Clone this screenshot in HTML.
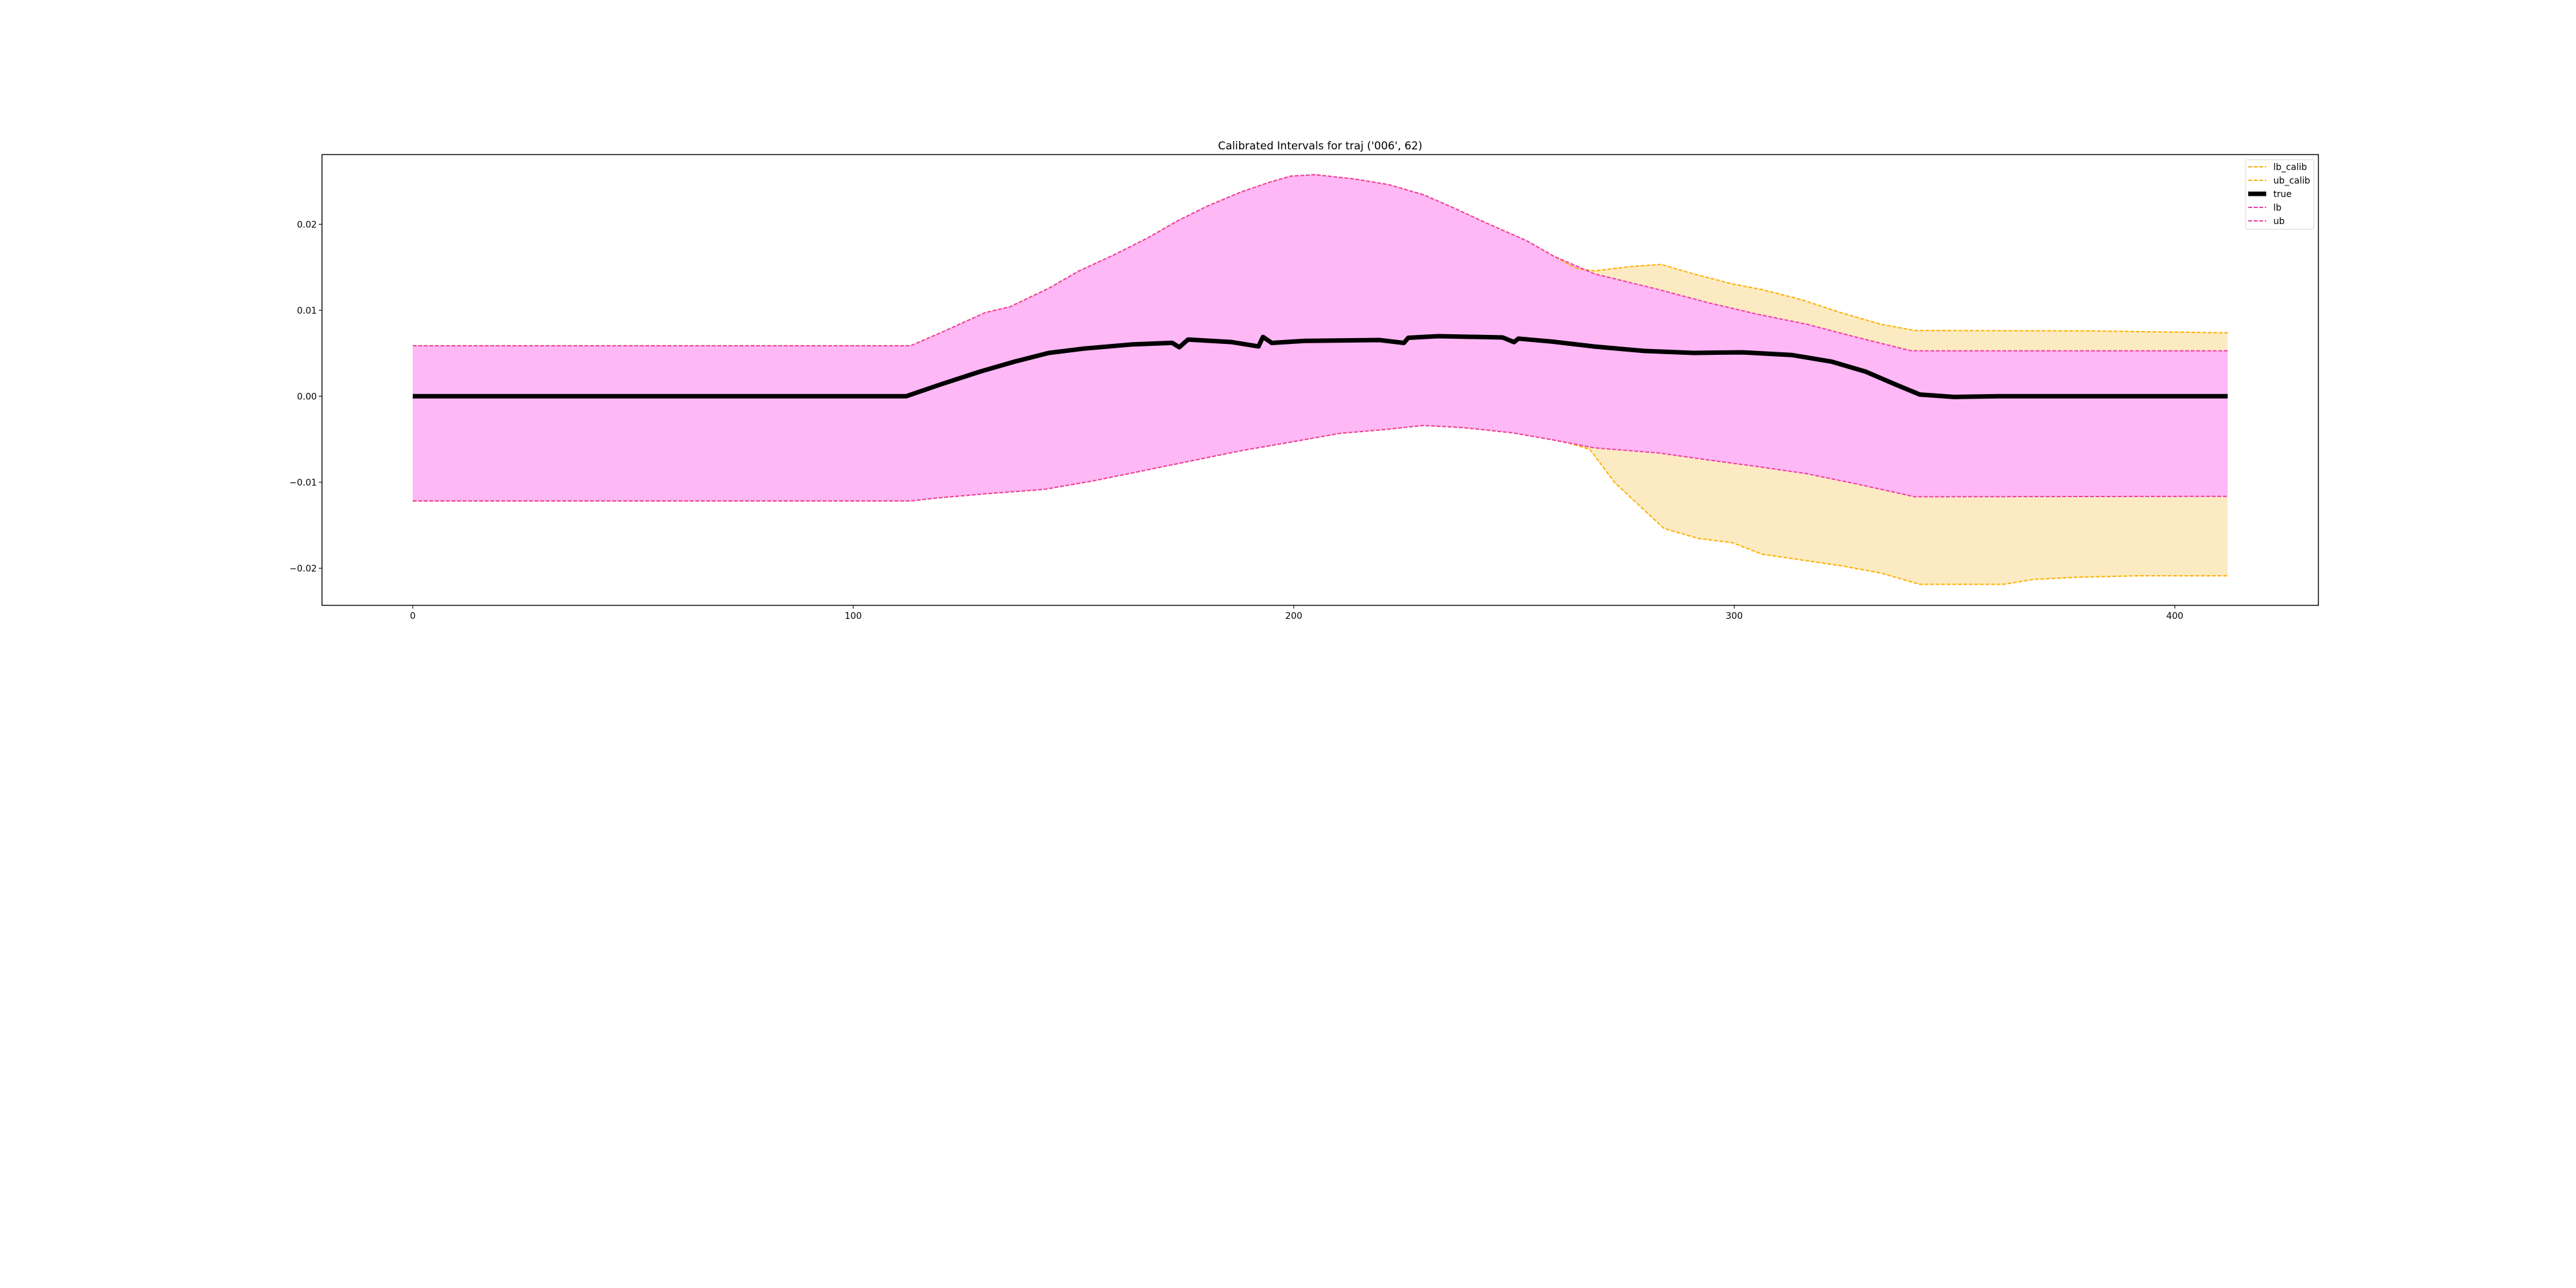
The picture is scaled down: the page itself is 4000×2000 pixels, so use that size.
<!DOCTYPE html>
<html><head><meta charset="utf-8"><style>
html,body{margin:0;padding:0;background:#fff;}
svg{display:block;font-family:"DejaVu Sans","Liberation Sans",sans-serif;}
</style></head><body>
<svg id="chart" width="4000" height="2000" viewBox="0 0 4000 2000" xmlns="http://www.w3.org/2000/svg">
<rect width="4000" height="2000" fill="#fff"/>
<text x="2050" y="232" font-size="16.7" text-anchor="middle" fill="#000">Calibrated Intervals for traj ('006', 62)</text>
<g id="plot"></g>
<g id="axes"></g>
<g id="legend"></g>
</svg>
<script>
// ---- data ----
const ubX = [0,113,119.8,129.9,135.5,144.4,151.2,159,166.8,173.6,180.3,188.1,194.8,199.3,204.8,213.8,221.7,229.5,236.2,244,252.9,259,268.3,282.9,294,305.2,316.4,327.6,340,342,412];
const ubV = [0.00587,0.00587,0.00738,0.00972,0.01039,0.01256,0.01457,0.0164,0.0184,0.0204,0.0221,0.02377,0.02494,0.0256,0.02577,0.02527,0.0246,0.02343,0.02193,0.02009,0.01808,0.0163,0.01423,0.0124,0.01089,0.00955,0.00838,0.00688,0.0053,0.00529,0.00529];
const lbX = [0,113,118.7,129.9,143.3,154.5,165.7,176.9,188.1,199.3,210.4,221.7,229.5,238.4,249.6,258,268.3,282.9,294,305.2,316.4,327.6,341,412];
const lbV = [-0.01218,-0.01218,-0.01185,-0.01135,-0.01084,-0.00984,-0.00867,-0.0075,-0.00633,-0.00533,-0.00432,-0.00382,-0.00339,-0.00365,-0.00425,-0.00500,-0.006,-0.0066,-0.0074,-0.00817,-0.009,-0.01018,-0.01169,-0.01164];
const ubCalX = [0,113,119.8,129.9,135.5,144.4,151.2,159,166.8,173.6,180.3,188.1,194.8,199.3,204.8,213.8,221.7,229.5,236.2,244,252.9,259,264,268.3,276.2,283.4,290.7,299.6,306.3,315.3,324.2,333.2,341,380,412];
const ubCalV = [0.00587,0.00587,0.00738,0.00972,0.01039,0.01256,0.01457,0.0164,0.0184,0.0204,0.0221,0.02377,0.02494,0.0256,0.02577,0.02527,0.0246,0.02343,0.02193,0.02009,0.01808,0.0163,0.0149,0.01457,0.01507,0.01534,0.01423,0.01306,0.0124,0.01123,0.00972,0.00838,0.00765,0.00760,0.00738];
const lbCalX = [0,113,118.7,129.9,143.3,154.5,165.7,176.9,188.1,199.3,210.4,221.7,229.5,238.4,249.6,258,261.6,267.2,272.8,278.4,284,291.8,299.6,306.3,315.3,324.2,333.2,342.1,361.1,367.8,377.9,391.4,412];
const lbCalV = [-0.01218,-0.01218,-0.01185,-0.01135,-0.01084,-0.00984,-0.00867,-0.0075,-0.00633,-0.00533,-0.00432,-0.00382,-0.00339,-0.00365,-0.00425,-0.00500,-0.00532,-0.00617,-0.01001,-0.01268,-0.01536,-0.01653,-0.01703,-0.01837,-0.01904,-0.01971,-0.02055,-0.02188,-0.02188,-0.02131,-0.02105,-0.02088,-0.02088];
const trueX = [0,112,119.8,128.8,136.7,144.4,152.3,163.5,172.4,174,176,185.8,192,193,195,202.6,219.4,225,226,232.8,247.4,250,251,258.5,268.3,279.5,290.7,301.9,313,322,329.8,336.6,342.1,349.9,360,412];
const trueV = [0,0,0.00137,0.00287,0.00404,0.00504,0.00554,0.00604,0.00621,0.0057,0.0066,0.00631,0.0058,0.0069,0.0062,0.00644,0.00654,0.0062,0.0068,0.00699,0.00684,0.0063,0.0067,0.00637,0.00578,0.00527,0.00504,0.00511,0.0048,0.00404,0.00287,0.00137,0.0002,-0.00008,0,0];
const xTicks = [0,100,200,300,400];
const xTickLabels = ["0","100","200","300","400"];
const yTicks = [-0.02,-0.01,0,0.01,0.02];
const yTickLabels = ["\u22120.02","\u22120.01","0.00","0.01","0.02"];

// ---- axes ----
const L=500,R=3600,T=240,B=940;
const xMin=-20.6,xMax=432.6,yMin=-0.02432,yMax=0.02811;
const sx=x=>L+(x-xMin)/(xMax-xMin)*(R-L);
const sy=v=>B-(v-yMin)/(yMax-yMin)*(B-T);
const NS="http://www.w3.org/2000/svg";
function mk(tag,attrs,parent){const e=document.createElementNS(NS,tag);for(const k in attrs)e.setAttribute(k,attrs[k]);parent.appendChild(e);return e;}
const plot=document.getElementById('plot');
const axes=document.getElementById('axes');
const legend=document.getElementById('legend');
const pts=(X,V)=>X.map((x,i)=>sx(x).toFixed(1)+','+sy(V[i]).toFixed(1));
function band(X1,V1,X2,V2,fill,name){
  const p=pts(X1,V1).concat(pts(X2,V2).reverse());
  const e=mk('polygon',{points:p.join(' '),fill:fill},plot);
  
  
}
function line(X,V,stroke,w,dash,name){
  const e=mk('polyline',{points:pts(X,V).join(' '),fill:'none',stroke:stroke,'stroke-width':w,'stroke-linejoin':'round'},plot);
  if(dash)e.setAttribute('stroke-dasharray',dash);
  
  
}
band(ubCalX,ubCalV,lbCalX,lbCalV,'#fcebc2','calib-interval-fill');
band(ubX,ubV,lbX,lbV,'#fdb8f5','interval-fill');
const ORANGE='#ffb000',PINK='#f23ca8';
line(lbCalX,lbCalV,ORANGE,2,'6,2.6','lb-calib-line');
line(ubCalX,ubCalV,ORANGE,2,'6,2.6','ub-calib-line');
line(trueX,trueV,'#000',7,null,'true-line');
line(lbX,lbV,PINK,2,'6,2.6','lb-line');
line(ubX,ubV,PINK,2,'6,2.6','ub-line');

const frame=mk('rect',{x:L,y:T,width:R-L,height:B-T,fill:'none',stroke:'#000','stroke-width':1.4},axes);


xTicks.forEach((t,i)=>{
  const x=sx(t);
  const tk=mk('line',{x1:x,x2:x,y1:B,y2:B+5,stroke:'#000','stroke-width':1.1},axes);
  
  
  const tx=mk('text',{x:x,y:B+21,'font-size':13.9,'text-anchor':'middle',fill:'#000'},axes);
  tx.textContent=xTickLabels[i];
  
  
});
yTicks.forEach((t,i)=>{
  const y=sy(t);
  const tk=mk('line',{x1:L-5,x2:L,y1:y,y2:y,stroke:'#000','stroke-width':1.1},axes);
  
  
  const tx=mk('text',{x:L-8,y:y+5,'font-size':13.9,'text-anchor':'end',fill:'#000'},axes);
  tx.textContent=yTickLabels[i];
  
  
});

// ---- legend ----
const legLabels=['lb_calib','ub_calib','true','lb','ub'];
const legColors=[ORANGE,ORANGE,'#000',PINK,PINK];
const box=mk('rect',{x:3487,y:248,width:106,height:108,rx:3,fill:'#fff','fill-opacity':0.8,stroke:'#d6d6d6','stroke-width':1},legend);


legLabels.forEach((lab,i)=>{
  const y=259+i*21;
  const g=mk('g',{},legend);
  
  
  const ln=mk('line',{x1:3491,x2:3519,y1:y,y2:y,stroke:legColors[i],'stroke-width':lab==='true'?7:2},g);
  if(lab!=='true')ln.setAttribute('stroke-dasharray','6,2.6');
  const tx=mk('text',{x:3530,y:y+5,'font-size':13.9,fill:'#000'},g);
  tx.textContent=lab;
});
</script>
</body></html>
